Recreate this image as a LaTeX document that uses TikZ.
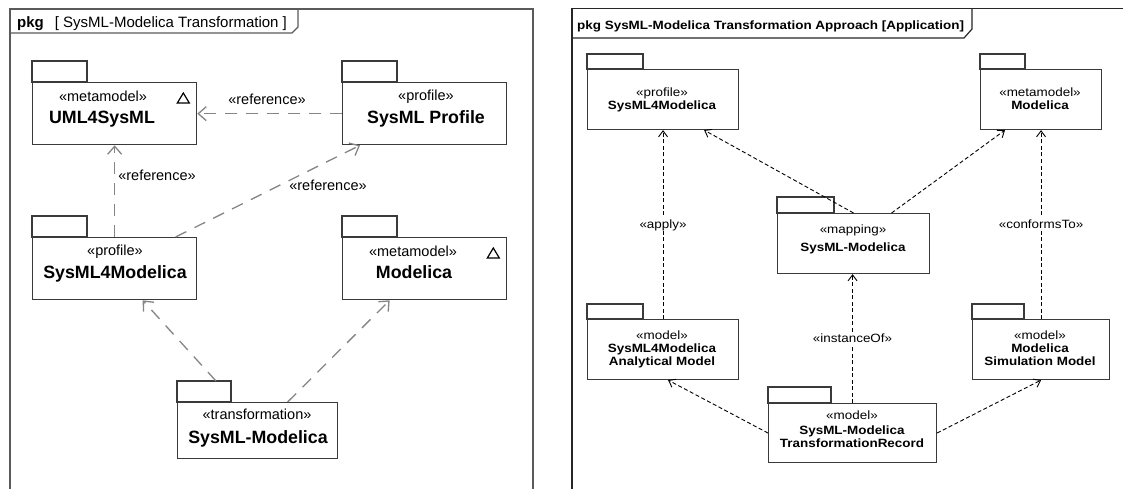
\documentclass[tikz,border=0pt]{standalone}
\usepackage{fontspec}
\setmainfont{Liberation Sans}
\newfontfamily\rsf[FakeStretch=1.12]{Liberation Sans}
\usetikzlibrary{arrows.meta,calc}
\definecolor{boxc}{HTML}{3A3A3A}
\definecolor{lgray}{HTML}{858585}
\definecolor{framec}{HTML}{5A5A5A}
\tikzset{
  pkgL/.style={draw=boxc, line width=1.3pt, inner sep=0pt, anchor=north west, minimum width=164pt, minimum height=62pt},
  tabL/.style={draw=boxc, line width=1.3pt},
  triL/.style={draw=black, line width=1.2pt, line join=miter},
  stL/.style={inner sep=0pt, font=\fontsize{14.5}{16}\selectfont, text height=10pt, text depth=0pt},
  nmL/.style={inner sep=0pt, font=\fontsize{17.8}{20}\selectfont\bfseries, text height=12.7pt, text depth=0pt},
  depL/.style={draw=lgray, line width=1.3pt, dash pattern=on 12pt off 9pt, -{Straight Barb[length=8pt,width=14pt,line width=1.3pt]}},
  frameL/.style={draw=framec, line width=1.2pt},
  pkgR/.style={draw=boxc, line width=1.1pt, inner sep=0pt, anchor=north west, minimum height=60pt},
  tabR/.style={draw=boxc, line width=1.1pt},
  stR/.style={inner sep=0pt, font=\rsf\fontsize{12}{14}\selectfont, text height=8.5pt, text depth=0pt},
  nmR/.style={inner sep=0pt, font=\rsf\fontsize{12}{14}\selectfont\bfseries, text height=8.6pt, text depth=0pt},
  lblR/.style={stR, fill=white, inner sep=2pt},
  depR/.style={draw=black, line width=0.9pt, dash pattern=on 4pt off 2.5pt, -{Straight Barb[length=6pt,width=9pt,line width=0.9pt]}},
  frameR/.style={draw=black!85, line width=1.2pt},
}
\begin{document}
\begin{tikzpicture}[x=1pt,y=-1pt]
\useasboundingbox (0,0) rectangle (1123,489);
\fill[white] (0,0) rectangle (1123,489);

% ---------------- left frame
\draw[frameL] (10,489) -- (10,9) -- (533,9) -- (533,489);
\draw[frameL] (10,33) -- (292,33) -- (298,27) -- (298,9);
\node[anchor=west, inner sep=0pt, font=\fontsize{15}{17}\selectfont, text height=10.7pt, text depth=0pt] (ttlL) at (17,22) {\textbf{pkg}\hspace{11pt}[ SysML-Modelica Transformation ]};

% packages
\node[pkgL] (uml) at (32,82) {};
\draw[tabL] (uml.north west) rectangle ++(55,-21);
\node[stL] (uml-s) at (103,97) {«metamodel»};
\node[nmL] (uml-n) at (102,117) {UML4SysML};
\draw[triL] ($(uml.north east)+(-14,11)$) -- ($(uml.north east)+(-8,21)$) -- ($(uml.north east)+(-20,21)$) -- cycle;

\node[pkgL] (prof) at (342,82) {};
\draw[tabL] (prof.north west) rectangle ++(55,-21);
\node[stL] (prof-s) at (426,96) {«profile»};
\node[nmL] (prof-n) at (426,117) {SysML Profile};

\node[pkgL] (s4m) at (32,237) {};
\draw[tabL] (s4m.north west) rectangle ++(55,-21);
\node[stL] (s4m-s) at (115,250) {«profile»};
\node[nmL] (s4m-n) at (115,272) {SysML4Modelica};

\node[pkgL] (mod) at (342,237) {};
\draw[tabL] (mod.north west) rectangle ++(55,-21);
\node[stL] (mod-s) at (413,251) {«metamodel»};
\node[nmL] (mod-n) at (414,272) {Modelica};
\draw[triL] ($(mod.north east)+(-14,11)$) -- ($(mod.north east)+(-8,21)$) -- ($(mod.north east)+(-20,21)$) -- cycle;

\node[pkgL, minimum width=160pt, minimum height=56pt] (trans) at (177,402) {};
\draw[tabL] (trans.north west) rectangle ++(54,-21);
\node[stL] (trans-s) at (257,414) {«transformation»};
\node[nmL] (trans-n) at (258,437) {SysML-Modelica};

% connectors
\draw[depL] (prof.west) -- (uml.east);
\node[stL] (ref1) at (267,100) {«reference»};
\draw[depL] (s4m.north) -- (uml.south);
\node[stL] (ref2) at (157,176) {«reference»};
\draw[depL] ([xshift=61pt]s4m.north) -- ([xshift=18pt]prof.south west);
\node[stL] (ref3) at (328,185) {«reference»};
\draw[depL] ($(trans.north west)+(39,-21)$) -- ([xshift=28pt]s4m.south);
\draw[depL] ([xshift=30pt]trans.north) -- ([xshift=-35pt]mod.south);

% ---------------- right frame
\draw[frameR] (572,489) -- (572,8.5) -- (1123,8.5);
\draw[frameR] (572,38) -- (964,38) -- (972,29) -- (972,8.5);
\node[nmR, anchor=west] (ttlR) at (577,25) {pkg SysML-Modelica Transformation Approach [Application]};

\node[pkgR, minimum width=151pt] (rs4m) at (587,69) {};
\draw[tabR] (rs4m.north west) rectangle ++(56,-15);
\node[stR] (rs4m-s) at (662,92) {«profile»};
\node[nmR] (rs4m-n) at (662,105) {SysML4Modelica};

\node[pkgR, minimum width=121pt] (rmod) at (980,69) {};
\draw[tabR] (rmod.north west) rectangle ++(45,-15);
\node[stR] (rmod-s) at (1040,92) {«metamodel»};
\node[nmR] (rmod-n) at (1040,105) {Modelica};

\node[pkgR, minimum width=152pt] (map) at (777,213) {};
\draw[tabR] (map.north west) rectangle ++(57,-16);
\node[stR] (map-s) at (853,229) {«mapping»};
\node[nmR] (map-n) at (853,247) {SysML-Modelica};

\node[pkgR, minimum width=151pt] (ana) at (587,319) {};
\draw[tabR] (ana.north west) rectangle ++(56,-15);
\node[stR] (ana-s) at (662,335) {«model»};
\node[nmR] (ana-n1) at (662,348) {SysML4Modelica};
\node[nmR] (ana-n2) at (662,361) {Analytical Model};

\node[pkgR, minimum width=137pt] (sim) at (972,319) {};
\draw[tabR] (sim.north west) rectangle ++(52,-15);
\node[stR] (sim-s) at (1040,335) {«model»};
\node[nmR] (sim-n1) at (1040,348) {Modelica};
\node[nmR] (sim-n2) at (1040,361) {Simulation Model};

\node[pkgR, minimum width=168pt, minimum height=59pt] (tr) at (768,403) {};
\draw[tabR] (tr.north west) rectangle ++(63,-16);
\node[stR] (tr-s) at (852,415) {«model»};
\node[nmR] (tr-n1) at (852,430) {SysML-Modelica};
\node[nmR] (tr-n2) at (852,443) {TransformationRecord};

% connectors
\draw[depR] (ana.north) -- node[lblR] (apply) {«apply»} (rs4m.south);
\draw[depR] (map.north) -- ([xshift=-35pt]rs4m.south east);
\draw[depR] ([xshift=38pt]map.north) -- ([xshift=25pt]rmod.south west);
\draw[depR] (sim.north) -- node[lblR] (conf) {«conformsTo»} (rmod.south);
\draw[depR] (tr.north) -- node[lblR] (inst) {«instanceOf»} (tr.north |- map.south);
\draw[depR] (tr.west) -- ([xshift=5pt]ana.south);
\draw[depR] (tr.east) -- (sim.south);
\end{tikzpicture}
\end{document}
